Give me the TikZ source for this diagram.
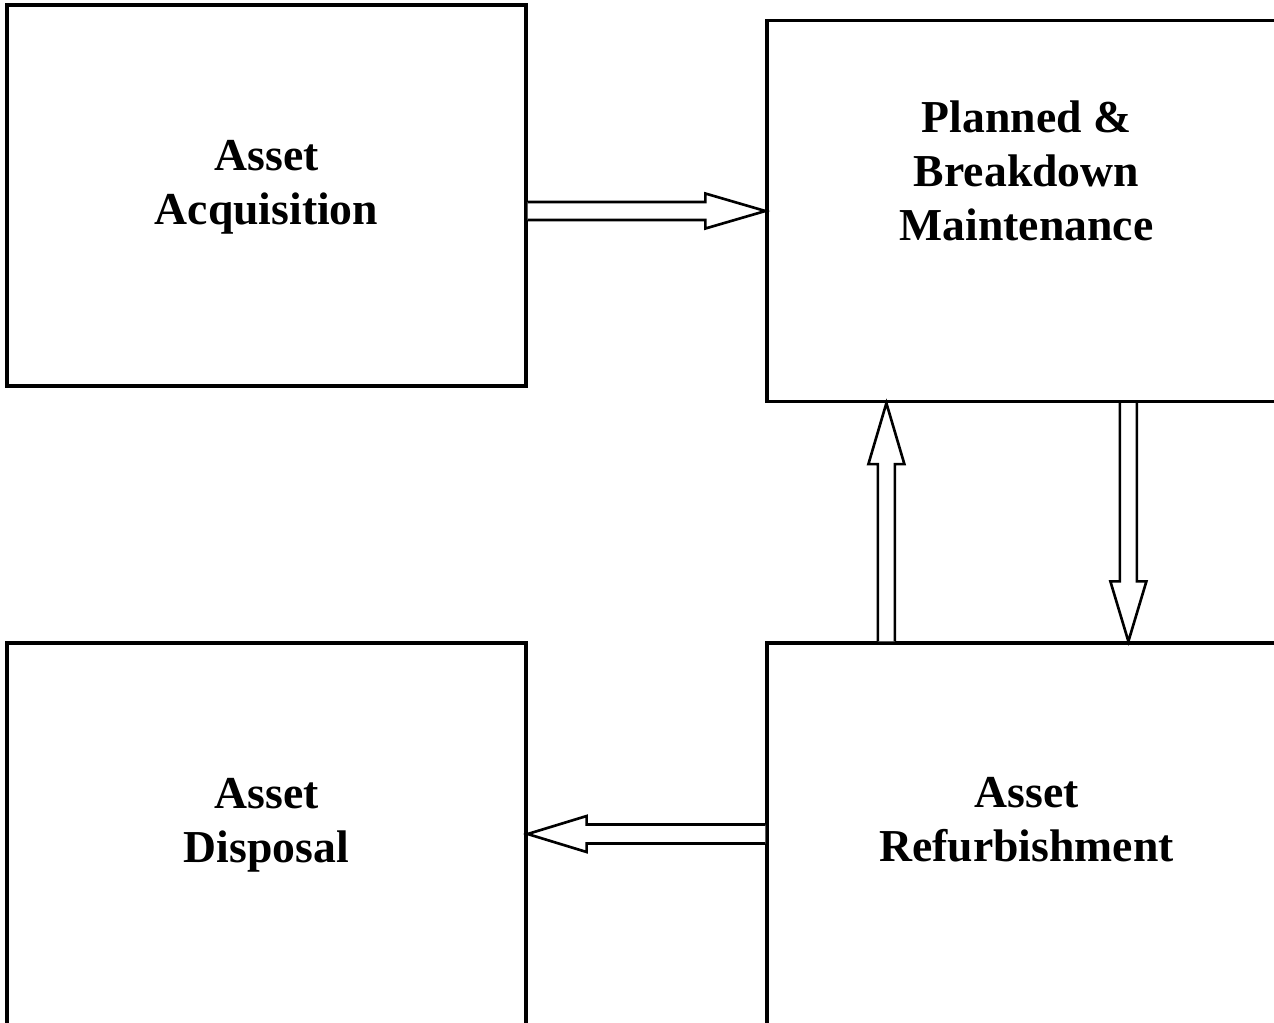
\documentclass[tikz,border=0pt]{standalone}
\usepackage{fontspec}
\setmainfont{Liberation Serif}
\usepackage{tikz}
\usetikzlibrary{positioning, calc}

\begin{document}
\begin{tikzpicture}[
  x=0.02cm, y=-0.02cm,
  box/.style={draw, line width=1.9pt, minimum width=10.38cm, minimum height=7.62cm, inner sep=0pt},
  lowbox/.style={box, minimum height=7.76cm},
  lbl/.style={font=\fontsize{26}{30.7}\selectfont\bfseries, align=center},
  blk/.style={draw, line width=1.5pt, line join=miter, fill=white}
]
  % Frame of the page
  \useasboundingbox (0,0) rectangle (1274,1022);
  \clip (0,0) rectangle (1274,1022);
  \fill[white] (0,0) rectangle (1274,1022);

  % Four stages
  \node[box] (aa) at (266.5, 195.5) {};
  \node[box] (pb) at (1026.5, 211) {};
  \node[lowbox] (ad) at (266.5, 837) {};
  \node[lowbox] (ar) at (1026.5, 837) {};

  % Labels
  \node[lbl] (aalbl) at ($(aa.center)+(0,-8.5)$) {Asset\\Acquisition};
  \node[lbl] (pblbl) at ($(pb.center)+(0,-40)$) {Planned \&\\Breakdown\\Maintenance};
  \node[lbl] (adlbl) at ($(ad.center)+(0,-12)$) {Asset\\Disposal};
  \node[lbl] (arlbl) at ($(ar.center)+(0,-17)$) {Asset\\Refurbishment};

  % Feet and tips of the arrows
  \coordinate (upfoot) at ($(ar.north west)+(121,0)$);
  \coordinate (uptip) at (upfoot |- pb.south);
  \coordinate (dntop) at ($(pb.south west)+(363,0)$);
  \coordinate (dntip) at (dntop |- ar.north);
  \coordinate (lfoot) at ($(ar.west)+(0,-3)$);
  \coordinate (ltip) at (ad.east |- lfoot);

  % Acquisition -> Maintenance
  \draw[blk] ($(aa.east |- pb.west)+(0,-9)$) -- ($(pb.west)+(-60,-9)$) -- ($(pb.west)+(-60,-17.5)$)
    -- (pb.west) -- ($(pb.west)+(-60,17.5)$) -- ($(pb.west)+(-60,9)$) -- ($(aa.east |- pb.west)+(0,9)$);

  % Refurbishment -> Maintenance
  \draw[blk] ($(upfoot)+(-8.5,0)$) -- ($(uptip)+(-8.5,61)$) -- ($(uptip)+(-18,61)$)
    -- (uptip) -- ($(uptip)+(18,61)$) -- ($(uptip)+(8.5,61)$) -- ($(upfoot)+(8.5,0)$);

  % Maintenance -> Refurbishment
  \draw[blk] ($(dntop)+(-8.5,0)$) -- ($(dntip)+(-8.5,-60)$) -- ($(dntip)+(-18,-60)$)
    -- (dntip) -- ($(dntip)+(18,-60)$) -- ($(dntip)+(8.5,-60)$) -- ($(dntop)+(8.5,0)$);

  % Refurbishment -> Disposal
  \draw[blk] ($(lfoot)+(0,-9.5)$) -- ($(ltip)+(59,-9.5)$) -- ($(ltip)+(59,-18)$)
    -- (ltip) -- ($(ltip)+(59,18)$) -- ($(ltip)+(59,9.5)$) -- ($(lfoot)+(0,9.5)$);
\end{tikzpicture}
\end{document}
